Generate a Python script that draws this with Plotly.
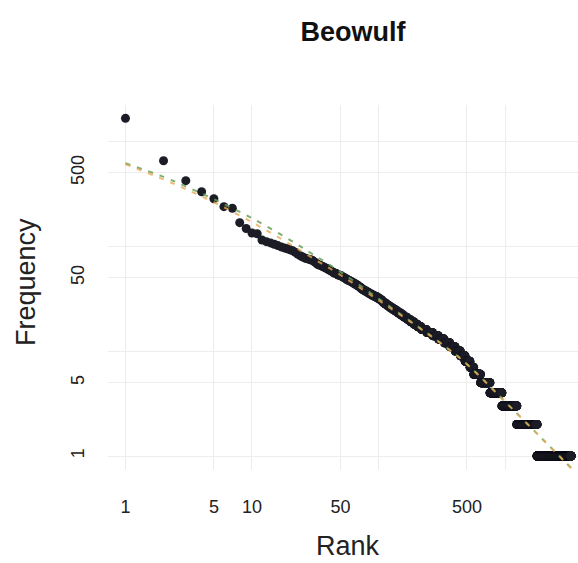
import numpy as np
import plotly.graph_objects as go

# Word frequencies of the most common words, ranks 1..108
top_freqs = [1645, 649, 419, 329, 282, 237, 229, 167, 147, 133,
             131, 114, 110, 107, 104, 101, 98, 96, 94, 92,
             90, 87, 84, 81, 79, 77, 76, 75, 74, 73,
             71, 69, 67, 66, 65, 64, 63, 62, 61, 60,
             59, 58, 57, 56, 55, 55, 54, 53, 53, 52,
             52, 51, 50, 50, 49, 48, 48, 47, 47, 46,
             46, 45, 45, 44, 44, 43, 43, 42, 42, 41,
             41, 40, 40, 39, 39, 38, 38, 38, 37, 37,
             37, 36, 36, 36, 35, 35, 35, 35, 34, 34,
             34, 34, 33, 33, 33, 33, 33, 32, 32, 32,
             32, 31, 31, 31, 31, 30, 30, 30]

# Frequency spectrum of the rarer words: how many words occur f times
low_freq_values = [29, 28, 27, 26, 25, 24, 23, 22, 21, 20, 19, 18, 17, 16, 15,
                   14, 13, 12, 11, 10, 9, 8, 7, 6, 5, 4, 3, 2, 1]
low_freq_counts = [4, 5, 5, 6, 7, 7, 8, 8, 10, 10, 12, 13, 15, 22, 27,
                   30, 33, 35, 38, 40, 40, 45, 37, 75, 120, 185, 295, 550, 1540]

# Two fitted frequency models evaluated at selected ranks
fit_ranks = [1, 2, 3, 5, 10, 20, 30, 50, 100, 200, 300, 500, 1000, 2000, 3330]
fit_model_a = [614, 455, 370, 279, 184, 114, 84, 56.8, 31.6, 17.5, 12.3, 7.5, 3.3, 1.43, 0.77]
fit_model_b = [601, 431, 348, 261, 169, 104, 77, 53, 30.5, 17.3, 12.2, 7.5, 3.3, 1.43, 0.77]

# Axis ticks (gridlines at every value, labels only where printed)
x_tickvals = [1, 5, 10, 50, 100, 500, 1000]
x_ticktext = ["1", "5", "10", "50", "", "500", ""]
y_tickvals = [1, 5, 10, 50, 100, 500, 1000]
y_ticktext = ["1", "5", "", "50", "", "500", ""]

freqs = list(top_freqs)
for f, n in zip(low_freq_values, low_freq_counts):
    freqs.extend([f] * n)
ranks = np.arange(1, len(freqs) + 1)

W, H = 578, 563
L, R, T, B = 108, 0, 105, 93
FONT = "Liberation Sans, Arial, Helvetica, sans-serif"

fig = go.Figure()
fig.add_trace(go.Scatter(
    x=ranks, y=freqs, mode="markers",
    marker=dict(size=9, color="#1c1c26", line=dict(width=0)),
    hoverinfo="x+y",
))
fig.add_trace(go.Scatter(
    x=fit_ranks, y=fit_model_a, mode="lines",
    line=dict(color="rgba(105,160,90,0.85)", width=2, dash="5px,7px", shape="spline"),
))
fig.add_trace(go.Scatter(
    x=fit_ranks, y=fit_model_b, mode="lines",
    line=dict(color="rgba(232,170,85,0.8)", width=2, dash="5px,7px", shape="spline"),
))

axis_common = dict(
    type="log", showgrid=True, gridcolor="#ededed", gridwidth=1,
    zeroline=False, showline=False, ticks="",
    tickfont=dict(family=FONT, size=18, color="#222222"),
)
fig.update_layout(
    width=W, height=H,
    margin=dict(l=L, r=R, t=T, b=B, pad=0),
    paper_bgcolor="white", plot_bgcolor="white",
    showlegend=False,
    title=dict(text="<b>Beowulf</b>", x=353 / W, y=1 - 32 / H,
               xanchor="center", yanchor="middle",
               font=dict(family=FONT, size=27, color="#111111")),
    xaxis=dict(axis_common, range=[-0.138, 3.577],
               tickvals=x_tickvals, ticktext=x_ticktext, ticklabelstandoff=24),
    yaxis=dict(axis_common, range=[-0.133, 3.343],
               tickvals=y_tickvals, ticktext=y_ticktext, tickangle=-90,
               ticklabelstandoff=19),
)

pw, ph = W - L - R, H - T - B
fig.add_annotation(text="Rank", xref="paper", yref="paper",
                   x=(348 - L) / pw, y=(H - B - 546) / ph,
                   xanchor="center", yanchor="middle", showarrow=False,
                   font=dict(family=FONT, size=27, color="#222222"))
fig.add_annotation(text="Frequency", xref="paper", yref="paper",
                   x=(26 - L) / pw, y=(H - B - 282) / ph, textangle=-90,
                   xanchor="center", yanchor="middle", showarrow=False,
                   font=dict(family=FONT, size=27, color="#222222"))

fig.write_html("out.html")
